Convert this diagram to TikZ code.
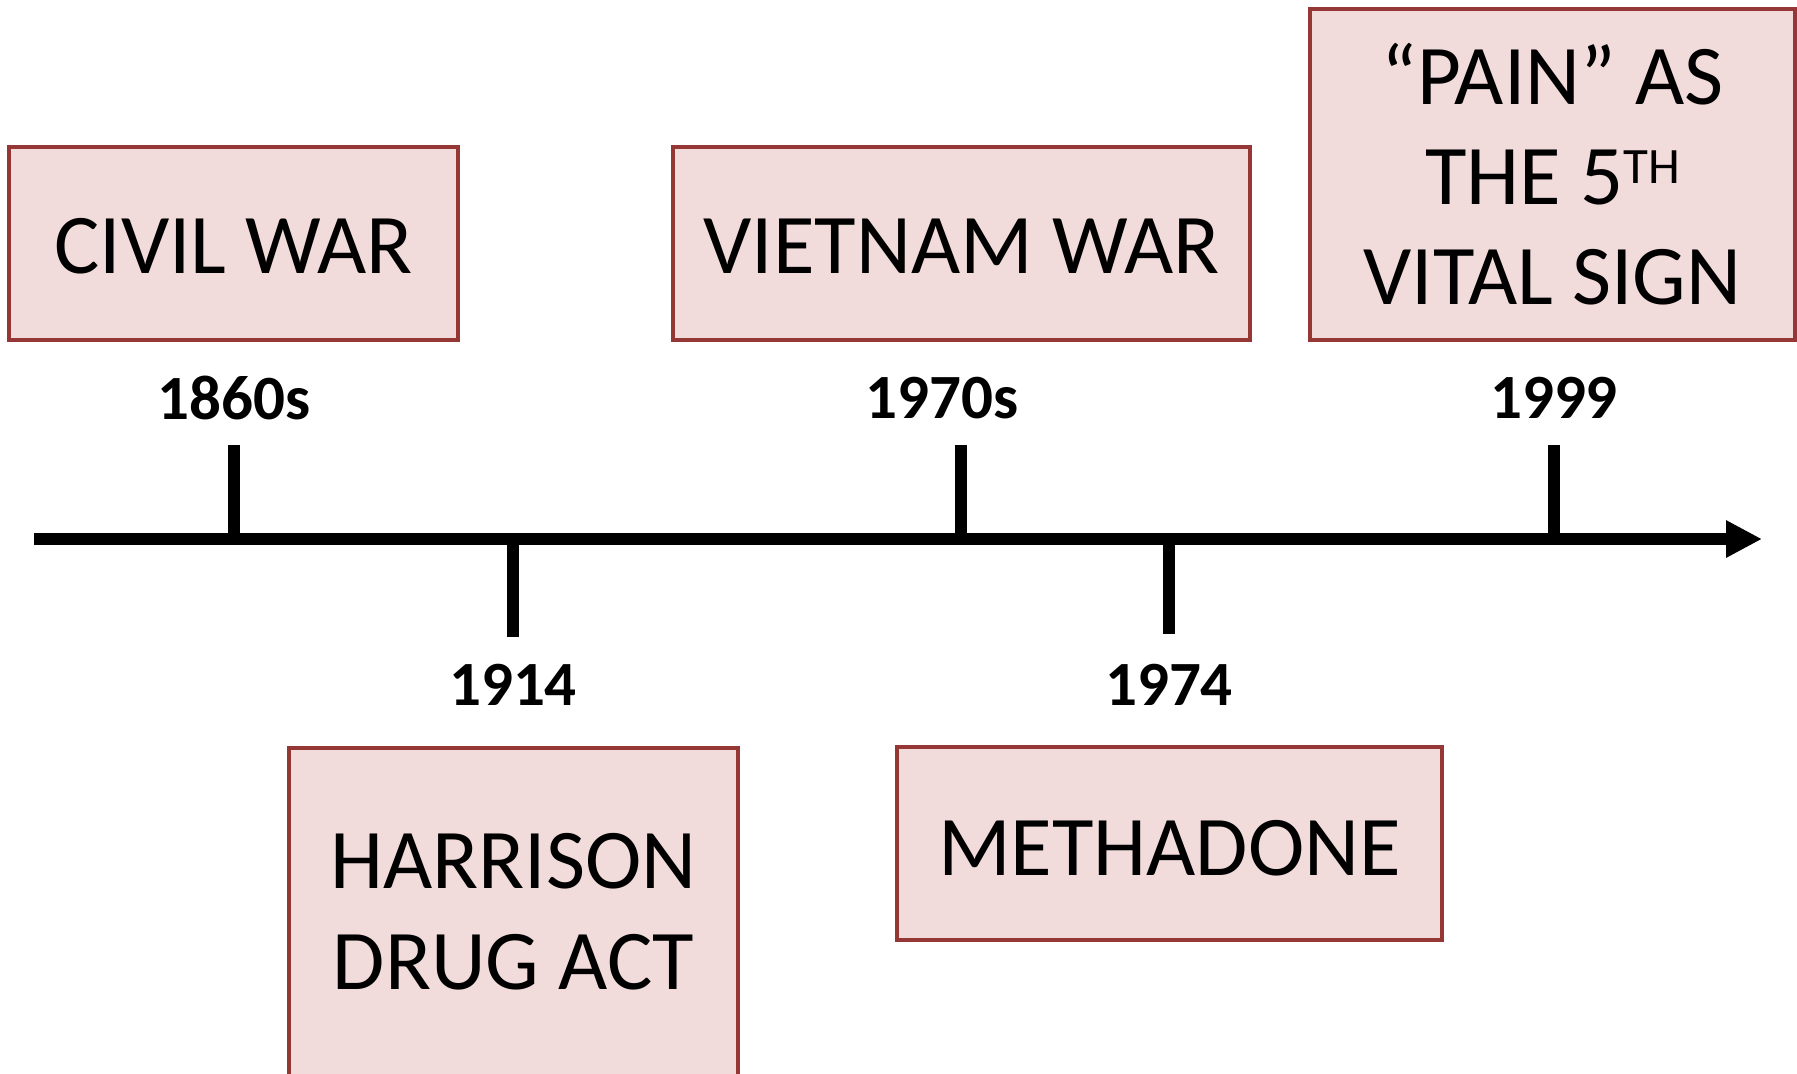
\documentclass[tikz,border=0pt]{standalone}
\usepackage{fontspec}
\setmainfont{Carlito}
\usetikzlibrary{arrows.meta}
\definecolor{boxfill}{HTML}{F2DCDB}
\definecolor{boxdraw}{HTML}{953735}
\tikzset{
  evbox/.style={draw=boxdraw, fill=boxfill, line width=1.6pt, rectangle, inner sep=0pt,
    align=center, font=\fontsize{42.5pt}{50pt}\selectfont},
  evtext/.style={inner sep=0pt, align=center, font=\fontsize{42.5pt}{50.5pt}\selectfont},
  year/.style={inner sep=0pt, font=\fontsize{31.5pt}{36pt}\selectfont\bfseries},
  axisline/.style={line width=6pt, -{Triangle[length=18pt,width=17.5pt]}},
  tickline/.style={line width=6pt, line cap=butt}
}
\begin{document}
\begin{tikzpicture}[x=0.5pt,y=-0.5pt]
\useasboundingbox (0,0) rectangle (1797,1073);
% boxes
\node[evbox, minimum width=224.5pt, minimum height=96.5pt] (civil) at (233.5,243.5) {};
\node[evtext] (civiltext) at (233.5,246) {CIVIL WAR};
\node[evbox, minimum width=288.5pt, minimum height=96.5pt] (vietnam) at (961.5,243.5) {};
\node[evtext] (vietnamtext) at (961.5,246) {VIETNAM WAR};
\node[evbox, minimum width=242.5pt, minimum height=165.5pt] (pain) at (1552.5,174.5)
  {“PAIN” AS\\THE 5\raisebox{10.5pt}{\fontsize{25.5pt}{25.5pt}\selectfont TH}\\VITAL SIGN};
\node[evbox, minimum width=224.5pt, minimum height=164pt] (harrison) at (513.5,912) {};
\node[evtext] (harrisontext) at (513.5,912) {HARRISON\\DRUG ACT};
\node[evbox, minimum width=272.5pt, minimum height=96.5pt] (methadone) at (1169.5,843.5) {};
\node[evtext] (methadonetext) at (1169.5,848) {METHADONE};
% years
\node[year] (y1860) at (234,398) {1860s};
\node[year] (y1970) at (942,398) {1970s};
\node[year] (y1999) at (1554,398) {1999};
\node[year] (y1914) at (513,685) {1914};
\node[year] (y1974) at (1169,685) {1974};
% axis
\coordinate (astart) at (34,539);
\coordinate (aend) at (1762,539);
\draw[axisline] (astart) -- (aend);
% ticks
\coordinate (t1860a) at (234,445); \coordinate (t1860b) at (234,539);
\coordinate (t1970a) at (961,445); \coordinate (t1970b) at (961,539);
\coordinate (t1999a) at (1554,445); \coordinate (t1999b) at (1554,539);
\coordinate (t1914a) at (513,539); \coordinate (t1914b) at (513,637);
\coordinate (t1974a) at (1169,539); \coordinate (t1974b) at (1169,634);
\draw[tickline] (t1860a) -- (t1860b);
\draw[tickline] (t1970a) -- (t1970b);
\draw[tickline] (t1999a) -- (t1999b);
\draw[tickline] (t1914a) -- (t1914b);
\draw[tickline] (t1974a) -- (t1974b);
\end{tikzpicture}
\end{document}
